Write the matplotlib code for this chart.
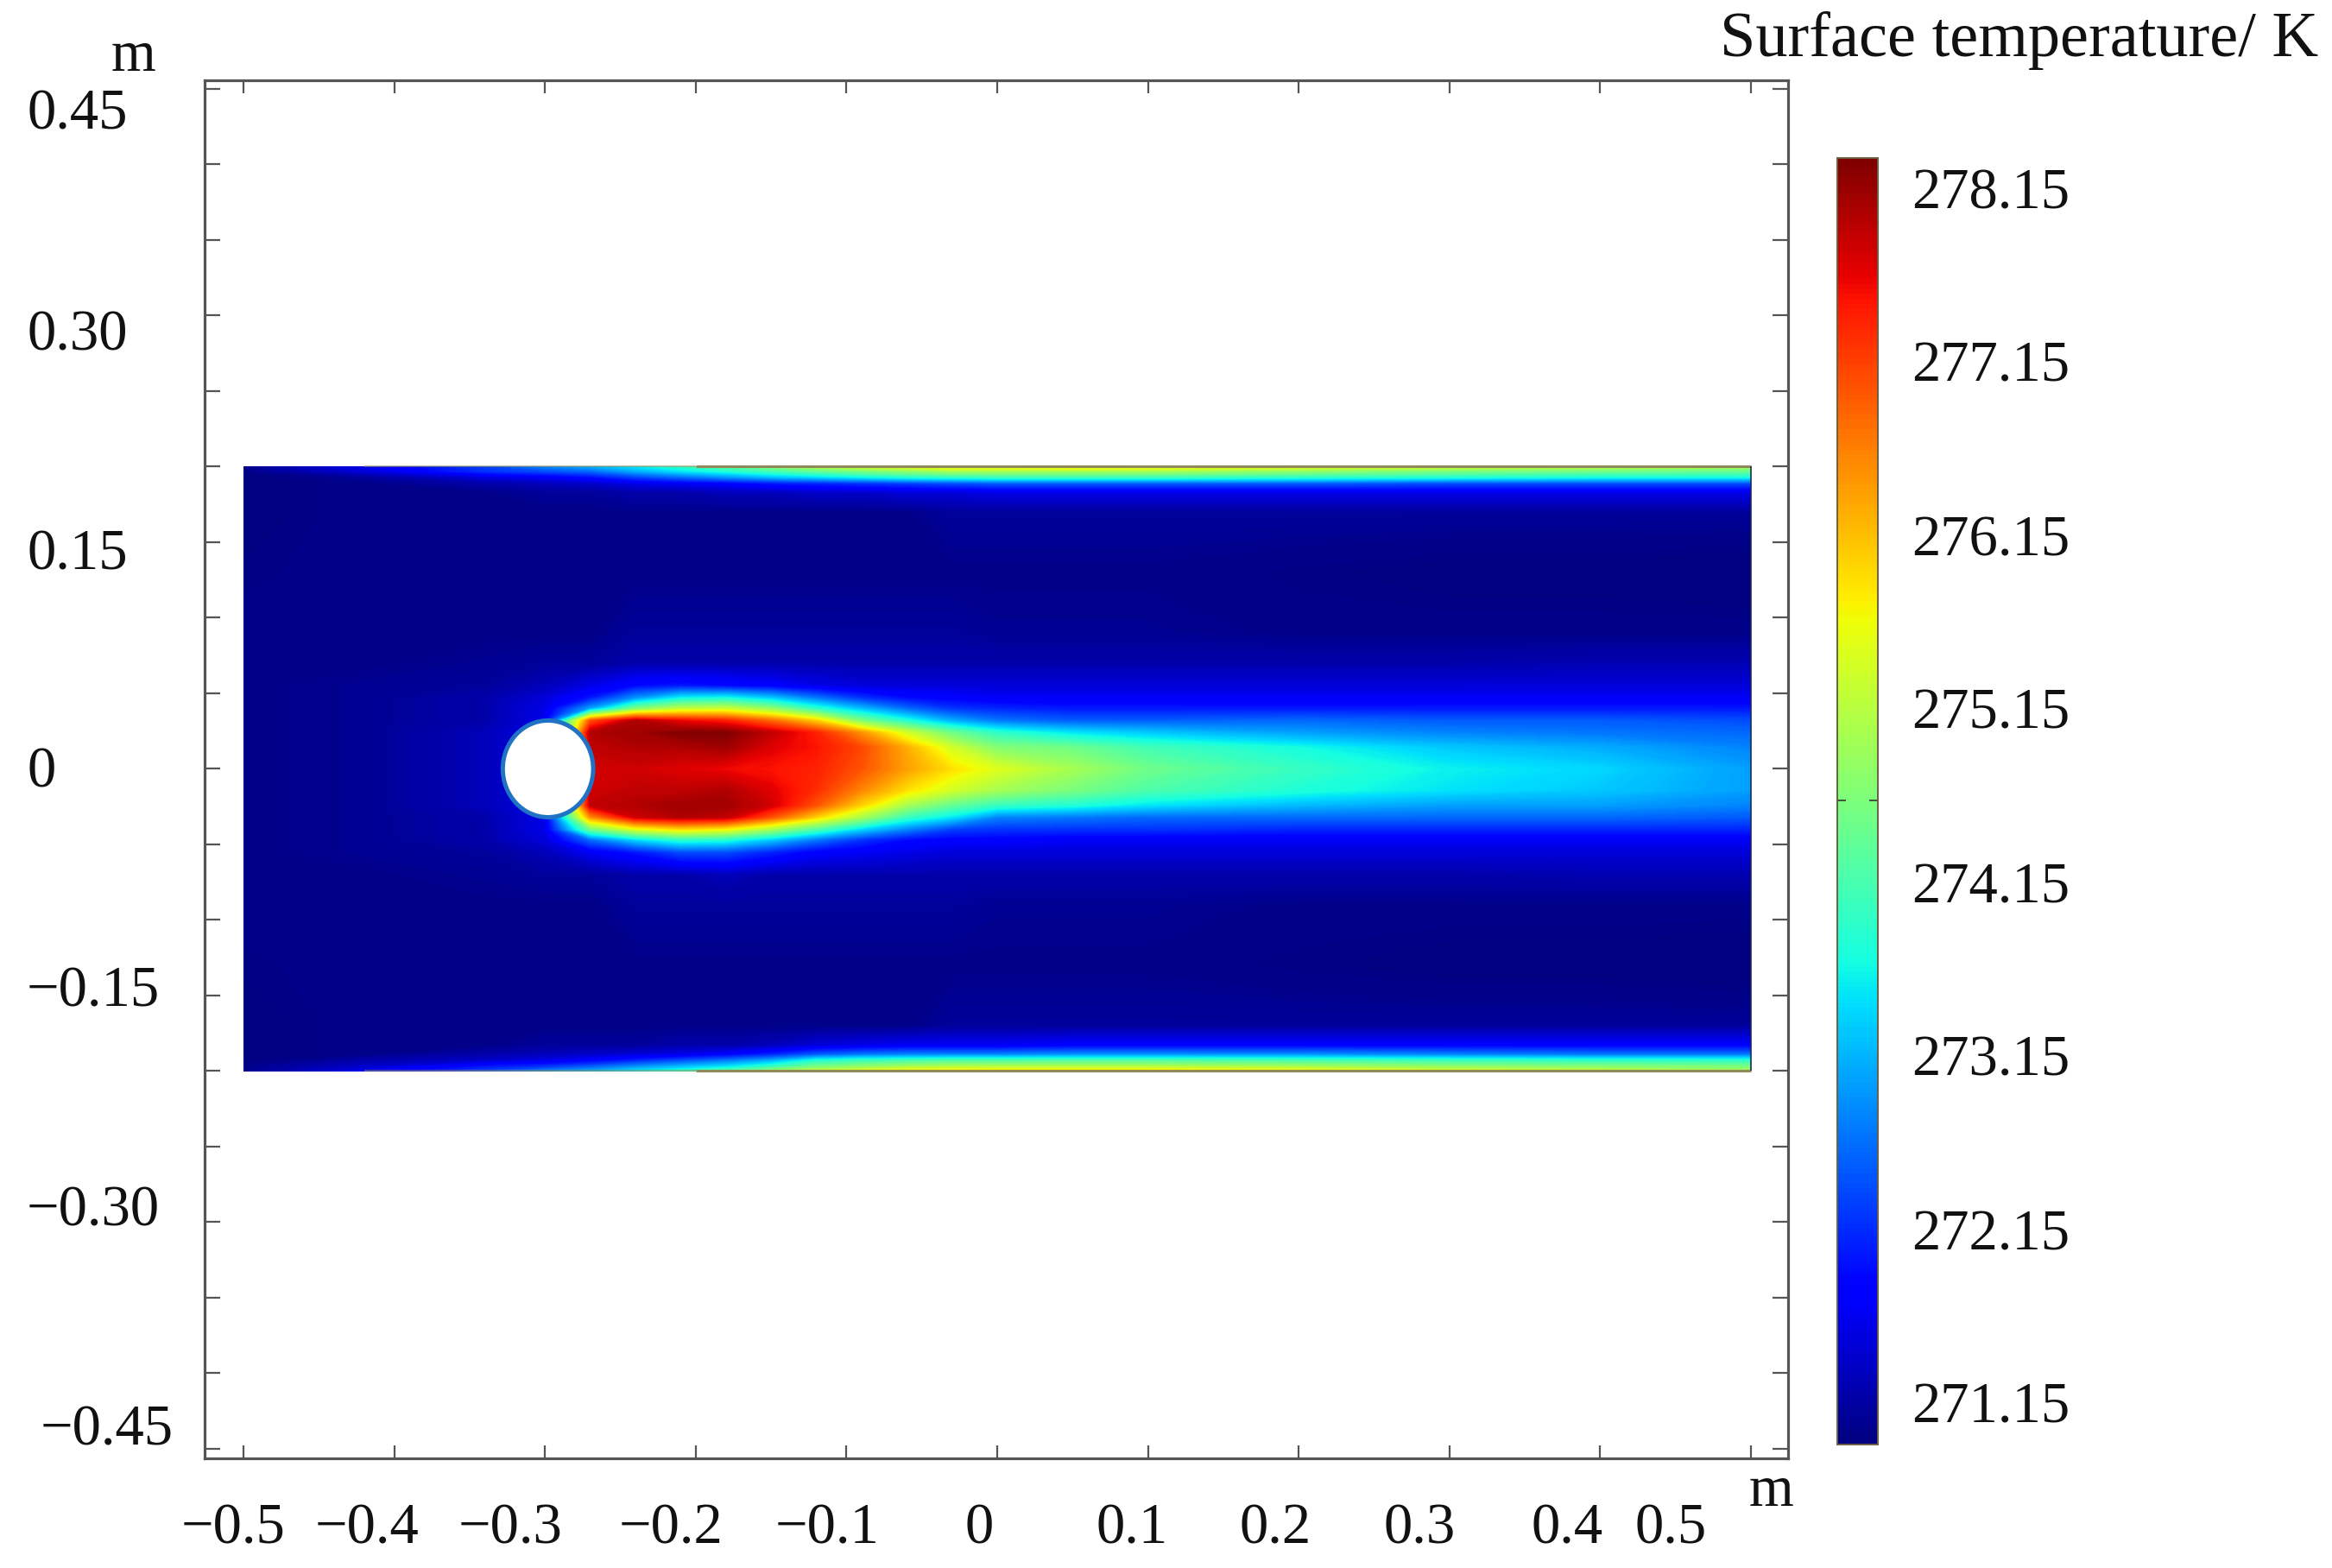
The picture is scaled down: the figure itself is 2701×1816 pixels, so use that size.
import numpy as np
import matplotlib
matplotlib.use("Agg")
import matplotlib.pyplot as plt
from matplotlib.cm import ScalarMappable
from matplotlib.colors import Normalize
from matplotlib.patches import Ellipse

plt.rcParams['font.family'] = ['Liberation Serif', 'DejaVu Serif']

W, H = 2701, 1816

# field stations (m) and temperature (K)
x_st = [-0.5, -0.42, -0.34, -0.3, -0.27, -0.24, -0.21, -0.18, -0.15, -0.12,
        -0.09, -0.06, -0.03, 0.0, 0.05, 0.1, 0.2, 0.3, 0.4, 0.5]
y_st = [0.2, 0.197, 0.193, 0.189, 0.183, 0.17, 0.13, 0.09, 0.07, 0.055, 0.047,
        0.04, 0.032, 0.024, 0.014, 0.0, -0.014, -0.024, -0.032, -0.04, -0.047,
        -0.055, -0.07, -0.09, -0.13, -0.17, -0.183, -0.189, -0.193, -0.197, -0.2]
temps = [
    [271.0, 271.6, 272.3, 272.8, 273.1, 273.5, 273.9, 274.3, 274.7, 275.1, 275.4, 275.6, 275.8, 275.8, 275.9, 275.8, 275.6, 275.4, 275.2, 275.0],
    [271.0, 271.5, 272.2, 272.4, 272.6, 273.1, 273.5, 273.8, 274.1, 274.4, 274.6, 274.8, 275.0, 275.0, 275.0, 275.0, 274.8, 274.6, 274.5, 274.4],
    [270.9, 271.1, 271.5, 271.7, 271.9, 272.3, 272.6, 272.9, 273.2, 273.4, 273.6, 273.8, 273.9, 274.0, 274.0, 274.0, 273.9, 273.8, 273.7, 273.7],
    [270.9, 271.0, 271.2, 271.3, 271.4, 271.6, 271.7, 271.8, 272.0, 272.1, 272.2, 272.3, 272.4, 272.5, 272.5, 272.5, 272.5, 272.4, 272.4, 272.4],
    [270.9, 271.0, 271.0, 271.1, 271.1, 271.2, 271.2, 271.3, 271.3, 271.4, 271.4, 271.5, 271.5, 271.6, 271.6, 271.6, 271.6, 271.6, 271.6, 271.6],
    [270.9, 271.0, 271.0, 271.0, 271.0, 271.0, 271.0, 271.0, 271.0, 271.0, 271.0, 271.0, 271.1, 271.1, 271.1, 271.1, 271.1, 271.1, 271.1, 271.1],
    [270.95, 271.0, 271.0, 271.0, 271.0, 271.0, 271.0, 271.0, 271.0, 271.0, 271.0, 271.0, 271.0, 271.0, 271.0, 271.0, 270.95, 270.9, 270.9, 270.85],
    [271.0, 271.0, 271.0, 271.0, 271.0, 271.1, 271.1, 271.1, 271.1, 271.1, 271.1, 271.1, 271.1, 271.05, 271.05, 271.05, 271.0, 271.0, 271.0, 271.0],
    [271.0, 271.0, 271.05, 271.1, 271.1, 271.2, 271.2, 271.2, 271.2, 271.2, 271.2, 271.2, 271.2, 271.2, 271.2, 271.2, 271.2, 271.2, 271.25, 271.25],
    [271.0, 271.05, 271.1, 271.3, 271.6, 271.9, 272.0, 271.9, 271.8, 271.6, 271.5, 271.5, 271.5, 271.5, 271.5, 271.5, 271.5, 271.5, 271.5, 271.5],
    [271.0, 271.05, 271.2, 271.5, 272.0, 272.9, 273.6, 273.7, 273.3, 272.7, 272.2, 271.9, 271.8, 271.7, 271.7, 271.7, 271.7, 271.7, 271.7, 271.7],
    [271.0, 271.05, 271.2, 271.6, 273.0, 274.6, 275.2, 275.3, 274.8, 273.9, 273.2, 272.6, 272.2, 272.1, 272.0, 272.0, 272.0, 272.0, 272.0, 272.0],
    [271.0, 271.05, 271.2, 271.6, 277.0, 278.0, 277.6, 277.4, 276.8, 276.0, 274.6, 273.8, 273.1, 272.7, 272.5, 272.5, 272.6, 272.5, 272.5, 272.4],
    [271.0, 271.05, 271.3, 271.6, 278.0, 278.1, 278.3, 278.3, 277.9, 277.4, 276.5, 275.4, 274.5, 273.9, 273.5, 273.3, 273.0, 272.8, 272.7, 272.6],
    [271.0, 271.05, 271.3, 271.6, 277.9, 278.0, 278.0, 278.1, 277.7, 277.5, 277.1, 276.3, 275.4, 274.7, 274.5, 274.1, 273.7, 273.3, 273.1, 272.8],
    [271.0, 271.05, 271.3, 271.6, 277.8, 277.8, 277.7, 277.6, 277.5, 277.4, 277.0, 276.4, 275.9, 275.5, 275.0, 274.5, 274.0, 273.6, 273.4, 273.0],
    [271.0, 271.05, 271.3, 271.6, 277.8, 277.9, 277.9, 278.0, 277.7, 277.3, 276.6, 275.9, 275.4, 275.0, 274.6, 274.2, 273.8, 273.5, 273.3, 273.0],
    [271.0, 271.05, 271.3, 271.6, 277.9, 278.0, 278.1, 278.1, 277.8, 277.0, 276.0, 275.0, 274.4, 274.0, 273.8, 273.5, 273.2, 273.0, 273.0, 272.8],
    [271.0, 271.05, 271.2, 271.6, 276.5, 277.8, 278.0, 277.9, 277.0, 276.0, 275.0, 274.0, 273.5, 272.8, 272.7, 272.6, 272.6, 272.6, 272.6, 272.5],
    [271.0, 271.05, 271.2, 271.6, 274.5, 275.5, 275.9, 275.7, 275.0, 274.2, 273.4, 272.8, 272.3, 272.2, 272.2, 272.2, 272.1, 272.1, 272.1, 272.1],
    [271.0, 271.05, 271.2, 271.5, 272.6, 273.4, 273.9, 273.8, 273.3, 272.7, 272.2, 271.9, 271.8, 271.8, 271.7, 271.7, 271.7, 271.7, 271.7, 271.7],
    [271.0, 271.05, 271.1, 271.3, 271.7, 272.0, 272.4, 272.4, 272.1, 271.8, 271.7, 271.6, 271.5, 271.5, 271.5, 271.5, 271.5, 271.5, 271.5, 271.5],
    [271.0, 271.0, 271.05, 271.1, 271.1, 271.2, 271.2, 271.3, 271.2, 271.2, 271.2, 271.2, 271.2, 271.2, 271.2, 271.2, 271.2, 271.2, 271.25, 271.25],
    [271.0, 271.0, 271.0, 271.0, 271.0, 271.1, 271.1, 271.1, 271.1, 271.1, 271.1, 271.1, 271.1, 271.05, 271.05, 271.05, 271.0, 271.0, 271.0, 271.0],
    [270.95, 271.0, 271.0, 271.0, 271.0, 271.0, 271.0, 271.0, 271.0, 271.0, 271.0, 271.0, 271.0, 271.0, 271.0, 271.0, 270.95, 270.9, 270.9, 270.85],
    [270.9, 271.0, 271.0, 271.0, 271.0, 271.0, 271.0, 271.0, 271.0, 271.0, 271.0, 271.0, 271.1, 271.1, 271.1, 271.1, 271.1, 271.1, 271.1, 271.1],
    [270.9, 271.0, 271.0, 271.1, 271.1, 271.1, 271.2, 271.2, 271.3, 271.5, 271.6, 271.7, 271.7, 271.7, 271.8, 271.8, 271.8, 271.8, 271.8, 271.8],
    [270.9, 271.0, 271.2, 271.3, 271.4, 271.5, 271.6, 271.8, 272.1, 272.5, 272.7, 272.8, 272.8, 272.8, 272.9, 272.9, 272.9, 272.8, 272.7, 272.7],
    [270.9, 271.2, 271.4, 271.6, 271.8, 272.1, 272.4, 272.7, 273.1, 273.8, 274.0, 274.1, 274.2, 274.2, 274.2, 274.2, 274.1, 274.0, 273.9, 273.9],
    [271.0, 271.4, 272.0, 272.2, 272.5, 272.9, 273.2, 273.5, 274.0, 274.6, 274.8, 275.0, 275.1, 275.1, 275.1, 275.1, 275.0, 274.8, 274.7, 274.6],
    [271.0, 271.6, 272.3, 272.8, 273.1, 273.5, 273.9, 274.3, 274.9, 275.3, 275.6, 275.8, 275.9, 276.0, 276.0, 276.0, 275.8, 275.5, 275.3, 275.0],
]

# axis ticks and the labels as printed (the labels do not sit on the ticks)
x_ticks = [-0.5, -0.4, -0.3, -0.2, -0.1, 0.0, 0.1, 0.2, 0.3, 0.4, 0.5]
y_ticks = [-0.45, -0.4, -0.35, -0.3, -0.25, -0.2, -0.15, -0.1, -0.05, 0.0,
           0.05, 0.1, 0.15, 0.2, 0.25, 0.3, 0.35, 0.4, 0.45]
x_labels = ['\u22120.5', '\u22120.4', '\u22120.3', '\u22120.2', '\u22120.1', '0',
            '0.1', '0.2', '0.3', '0.4', '0.5']
x_label_px = [210, 365, 531, 717, 898, 1118, 1269, 1436, 1602, 1774, 1893]
y_labels = ['0.45', '0.30', '0.15', '0', '\u22120.15', '\u22120.30', '\u22120.45']
y_label_px = [32, 32, 32, 32, 31, 31, 47]
y_label_base = [150, 406, 659, 912, 1166, 1419, 1673]

cbar_ticks = [271.15, 272.15, 273.15, 274.15, 275.15, 276.15, 277.15, 278.15]
cbar_min, cbar_max = 270.916, 278.33
cbar_mark = 274.63


def put_text(px, py, s, size=48):
    """text with its left end and baseline given in image pixels"""
    fig.text(px / W, 1 - py / H, s, fontsize=size, color='#111111',
             ha='left', va='baseline')


fig = plt.figure(figsize=(W / 100, H / 100), dpi=100)
ax = fig.add_axes([237 / W, 1 - 1689 / H, (2071 - 237) / W, (1689 - 93) / H])

norm = Normalize(cbar_min, cbar_max)
levels = np.linspace(cbar_min, cbar_max, 300)
ax.contourf(x_st, y_st[::-1], np.array(temps)[::-1], levels=levels, cmap='jet',
            norm=norm, extend='both', antialiased=False, zorder=1)

# blurred wall edges show as a brown line
ax.hlines([0.2, -0.2], -0.2, 0.5, color='#8f8a5c', lw=2.2, zorder=2)
ax.hlines([0.2, -0.2], -0.42, -0.2, color='#8f8a5c', lw=1.6, alpha=0.5, zorder=2)
ax.vlines(0.5, -0.2, 0.2, color='#1c2a55', lw=1.2, zorder=2)

ax.add_patch(Ellipse((-0.298, 0.0), 0.060, 0.064, facecolor='white',
                     edgecolor='#1f72c4', lw=3.6, zorder=3))

ax.set_xlim(-0.5258, 0.5247)
ax.set_ylim(-0.4563, 0.4557)
ax.set_xticks(x_ticks)
ax.set_yticks(y_ticks)
ax.tick_params(axis='x', direction='in', top=True, bottom=True, length=11,
               width=1.6, color='#555555', labelbottom=False)
ax.tick_params(axis='y', direction='in', left=True, right=True, length=13,
               width=1.6, color='#555555', labelleft=False)
for side in ax.spines.values():
    side.set_linewidth(2.3)
    side.set_color('#555555')

for s, px in zip(x_labels, x_label_px):
    put_text(px, 1788, s)
for s, px, py in zip(y_labels, y_label_px, y_label_base):
    put_text(px, py, s)
put_text(129, 82, 'm')
put_text(2026, 1744, 'm')
put_text(1992, 65, 'Surface temperature/ K', size=53.5)

cax = fig.add_axes([2128 / W, 1 - 1673 / H, (2175 - 2128) / W, (1673 - 183) / H])
cbar = fig.colorbar(ScalarMappable(norm=norm, cmap='jet'), cax=cax)
cbar.set_ticks([])
cax.set_yticks([cbar_mark], minor=True)
cax.tick_params(which='minor', direction='in', left=True, right=True, length=7,
                width=1.2, color='#333333')
cbar.outline.set_edgecolor('#6b5f45')
cbar.outline.set_linewidth(1.4)
for i, v in enumerate(cbar_ticks):
    put_text(2214, 1648 - 201 * i, '%.2f' % v)

fig.savefig('out.png', dpi=100)
